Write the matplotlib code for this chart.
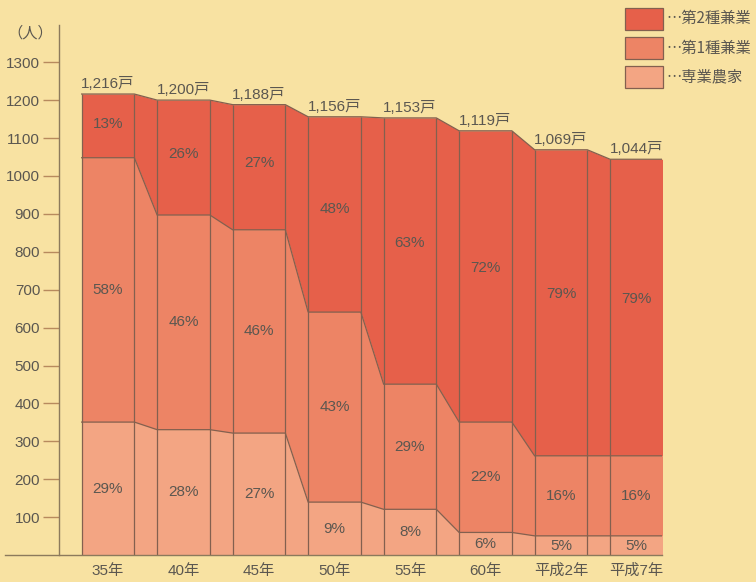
import matplotlib
matplotlib.use("Agg")
import matplotlib.pyplot as plt
from matplotlib.patches import Rectangle
from matplotlib.lines import Line2D
import numpy as np

plt.rcParams['font.family'] = ['Liberation Sans', 'Noto Sans CJK JP', 'DejaVu Sans']

# ---- data ----
years = ["35年", "40年", "45年", "50年", "55年", "60年", "平成2年", "平成7年"]
totals = [1216, 1200, 1188, 1156, 1153, 1119, 1069, 1044]
total_labels = ["1,216戸", "1,200戸", "1,188戸", "1,156戸", "1,153戸", "1,119戸", "1,069戸", "1,044戸"]
senngyo = [351, 331, 322, 140, 121, 60, 51, 51]          # 専業農家
kengyo1 = [697, 566, 536, 501, 330, 291, 211, 211]       # 第1種兼業
kengyo2 = [168, 303, 330, 515, 702, 768, 807, 782]       # 第2種兼業
pct_s = ["29%", "28%", "27%", "9%", "8%", "6%", "5%", "5%"]
pct_1 = ["58%", "46%", "46%", "43%", "29%", "22%", "16%", "16%"]
pct_2 = ["13%", "26%", "27%", "48%", "63%", "72%", "79%", "79%"]
legend_labels = ["…第2種兼業", "…第1種兼業", "…専業農家"]

# ---- style ----
BG = "#f8e2a2"
C2 = "#e6604a"
C1 = "#ed8465"
CS = "#f3a583"
EDGE = "#83604f"
TXT = "#5b5750"
AXC = "#8c7a5c"
TICKC = "#b78a5e"
FS = 11
CJK = ['Noto Sans CJK JP', 'DejaVu Sans']

fig = plt.figure(figsize=(7.56, 5.82), dpi=100, facecolor=BG)
W, H = 756, 582
ax_left_px, ax_right_px = 58.7, 662.3
ax_bot_px, ax_top_px = 555.2, 25
ax = fig.add_axes([ax_left_px / W, (H - ax_bot_px) / H,
                   (ax_right_px - ax_left_px) / W, (ax_bot_px - ax_top_px) / H])
ax.set_facecolor("none")

n = len(years)
pos = np.arange(n)
bw = 0.698
ax.set_xlim(-0.653, 7.342)
ax.set_ylim(0, 1398)

s = np.array(senngyo, float)
m = s + np.array(kengyo1, float)
t = m + np.array(kengyo2, float)

xs = np.ravel(np.column_stack([pos - bw / 2, pos + bw / 2]))
rep = lambda a: np.repeat(a, 2)

ax.fill_between(xs, 0, rep(s), color=CS, lw=0)
ax.fill_between(xs, rep(s), rep(m), color=C1, lw=0)
ax.fill_between(xs, rep(m), rep(t), color=C2, lw=0)

lw = 0.9
for b in (s, m, t):
    ax.plot(xs, rep(b), color=EDGE, lw=lw, solid_joinstyle='miter')
ax.vlines(xs, 0, rep(t), color=EDGE, lw=lw)

# percent labels
for i in range(n):
    ax.text(pos[i], s[i] / 2, pct_s[i], ha='center', va='center', fontsize=FS, color=TXT)
    ax.text(pos[i], (s[i] + m[i]) / 2, pct_1[i], ha='center', va='center', fontsize=FS, color=TXT)
    ax.text(pos[i], m[i] + (t[i] - m[i]) * 0.53, pct_2[i], ha='center', va='center', fontsize=FS, color=TXT)
    ax.annotate(total_labels[i], (pos[i], t[i]), xytext=(0, 2), textcoords='offset points',
                ha='center', va='bottom', fontsize=FS, color=TXT)

# axes styling
for sp in ('top', 'right', 'bottom'):
    ax.spines[sp].set_visible(False)
ax.spines['left'].set_color(AXC)
ax.spines['left'].set_linewidth(1.0)
ax.set_yticks(range(100, 1400, 100))
ax.tick_params(axis='y', direction='out', length=11.3, width=1.0, color=TICKC,
               labelcolor=TXT, labelsize=FS, pad=2)
ax.set_xticks(pos)
ax.set_xticklabels(years)
ax.tick_params(axis='x', length=0, labelcolor=TXT, labelsize=FS, pad=6)

# baseline extending left of the y axis
fig.add_artist(Line2D([5 / W, ax_right_px / W], [(H - ax_bot_px) / H] * 2,
                      color=AXC, lw=1.0, transform=fig.transFigure))

fig.text(30 / W, 1 - 33 / H, "（人）", ha='center', va='center', fontsize=FS, color=TXT,
         family=CJK)

# legend
cols = [C2, C1, CS]
for k, (lab, c) in enumerate(zip(legend_labels, cols)):
    ytop = 8 + 29 * k
    fig.add_artist(Rectangle((625 / W, 1 - (ytop + 22) / H), 38 / W, 22 / H,
                             facecolor=c, edgecolor=EDGE, lw=0.9, transform=fig.transFigure))
    fig.text(667 / W, 1 - (ytop + 11) / H, lab, ha='left', va='center', fontsize=FS,
             color=TXT, family=CJK)

fig.savefig("out.png", dpi=100, facecolor=BG)
